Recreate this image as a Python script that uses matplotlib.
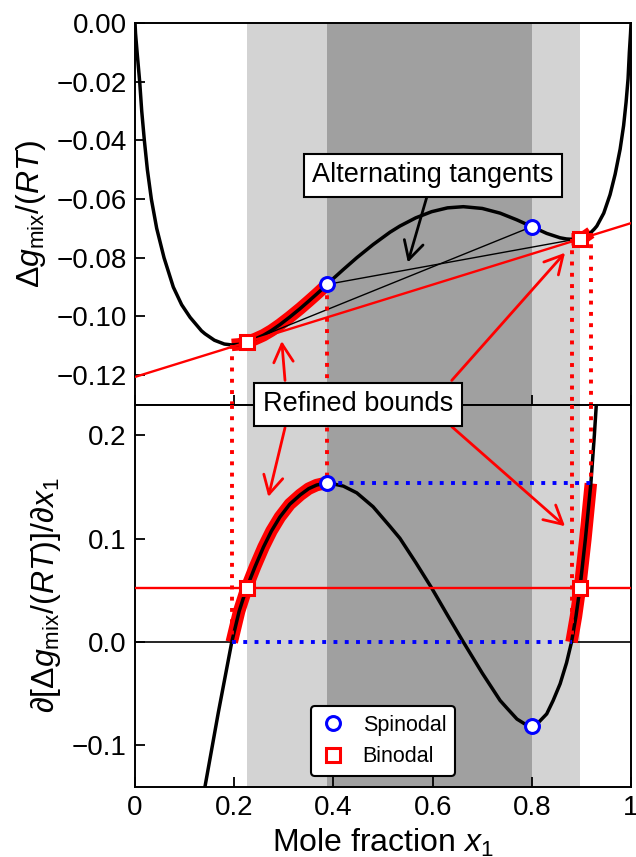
import numpy as np
import matplotlib
matplotlib.use("Agg")
import matplotlib.pyplot as plt
from matplotlib.ticker import FixedLocator, FixedFormatter

plt.rcParams.update({
    "font.family": ["Liberation Sans", "DejaVu Sans"],
    "mathtext.fontset": "custom",
    "mathtext.rm": "Liberation Sans",
    "mathtext.it": "Liberation Sans:italic",
    "mathtext.bf": "Liberation Sans:bold",
    "axes.linewidth": 1.4,
})

# Gibbs energy of mixing, dimensionless
X_G = np.array([0.0, 0.001, 0.0047, 0.0094, 0.0135, 0.0188, 0.0249, 0.0329, 0.0437,
                0.0585, 0.0772, 0.094, 0.111, 0.134, 0.141, 0.160, 0.180, 0.195,
                0.210, 0.225, 0.242, 0.259, 0.275, 0.292, 0.312, 0.333, 0.350, 0.366,
                0.377, 0.3865, 0.420, 0.447, 0.480, 0.514, 0.534, 0.566, 0.598, 0.630,
                0.662, 0.700, 0.736, 0.770, 0.800, 0.830, 0.857, 0.870, 0.880, 0.889,
                0.897, 0.908, 0.919, 0.926, 0.931, 0.945, 0.9577, 0.968, 0.978, 0.985,
                0.990, 0.994, 0.9966, 0.999, 1.0])
G = np.array([0.0, -0.0035, -0.0110, -0.0200, -0.0300, -0.0400, -0.0500, -0.0600, -0.0700,
              -0.0800, -0.0900, -0.0960, -0.1003, -0.1049, -0.1059, -0.1081, -0.1094, -0.1097,
              -0.1095, -0.1088, -0.1077, -0.1064, -0.1048, -0.1028, -0.1002, -0.0973, -0.0948,
              -0.0924, -0.0907, -0.0891, -0.0840, -0.0800, -0.0755, -0.0713, -0.0692, -0.0664,
              -0.0643, -0.0630, -0.0626, -0.0632, -0.0648, -0.0671, -0.0694, -0.0717, -0.0732,
              -0.0736, -0.0737, -0.0737, -0.0735, -0.0727, -0.0714, -0.0702, -0.0692, -0.0648,
              -0.0585, -0.0515, -0.0430, -0.0350, -0.0270, -0.0190, -0.0100, -0.0035, 0.0])

# first derivative w.r.t. x1
X_D = np.array([0.141, 0.168, 0.195, 0.210, 0.225, 0.242, 0.259, 0.275, 0.292, 0.312,
                0.333, 0.350, 0.366, 0.377, 0.3865, 0.403, 0.420, 0.447, 0.480, 0.514,
                0.534, 0.566, 0.598, 0.630, 0.662, 0.700, 0.736, 0.750, 0.770, 0.785,
                0.800, 0.815, 0.830, 0.843, 0.857, 0.870, 0.880, 0.889, 0.897, 0.908,
                0.919, 0.926, 0.930])
DG = np.array([-0.140, -0.068, 0.000, 0.030, 0.0524, 0.073, 0.092, 0.1075, 0.121, 0.1335,
               0.1425, 0.1485, 0.152, 0.1532, 0.1536, 0.1528, 0.151, 0.1445, 0.131, 0.112,
               0.1005, 0.077, 0.0524, 0.026, 0.000, -0.030, -0.0565, -0.064, -0.0745, -0.079,
               -0.0808, -0.0770, -0.0695, -0.0565, -0.0404, -0.020, 0.000, 0.025, 0.0524, 0.100,
               0.1536, 0.200, 0.230])

X_SPIN = np.array([0.3865, 0.800])
G_SPIN = np.array([-0.0891, -0.0694])
DG_SPIN = np.array([0.1536, -0.0808])

X_BIN = np.array([0.225, 0.897])
G_BIN = np.array([-0.1088, -0.0735])
DG_BIN = np.array([0.0524, 0.0524])

# common tangent through both binodal points
TAN_X = np.array([0.0, 1.0])
TAN_Y = np.array([-0.1206, -0.0682])

# bracketing intervals for the two binodal compositions
BOUND_L = (0.195, 0.3865)
BOUND_R = (0.880, 0.919)

# tangent chords from one spinodal to the opposite branch
ALT_X = [np.array([0.3865, 0.891]), np.array([0.800, 0.245])]
ALT_Y = [np.array([-0.0891, -0.0736]), np.array([-0.0694, -0.1074])]

LIGHT = "#d3d3d3"
DARK = "#a0a0a0"
DOT = (0, (1.0, 1.9))
DOT_LW = 2.8


def at(xs, ys, x):
    return ys[np.argmin(np.abs(xs - x))]


def span(xs, ys, lo, hi):
    m = (xs >= lo - 1e-9) & (xs <= hi + 1e-9)
    return xs[m], ys[m]


fig = plt.figure(figsize=(6.36, 8.57), dpi=100)
ax_t = fig.add_axes([0.2123, 0.528, 0.7799, 0.4452])
ax_b = fig.add_axes([0.2123, 0.082, 0.7799, 0.446], sharex=ax_t)

for ax in (ax_t, ax_b):
    ax.axvspan(X_BIN[0], X_BIN[1], color=LIGHT, lw=0, zorder=0)
    ax.axvspan(X_SPIN[0], X_SPIN[1], color=DARK, lw=0, zorder=0)
    ax.tick_params(direction="in", length=7, width=1.3, labelsize=20, pad=6)

# ---------- top: g(x) ----------
for lo, hi in (BOUND_L, BOUND_R):
    xs, ys = span(X_G, G, lo, hi)
    ax_t.plot(xs, ys, color="red", lw=9, solid_capstyle="butt", solid_joinstyle="round", zorder=2)
ax_t.plot(X_G, G, color="black", lw=2.5, solid_joinstyle="round", zorder=3)
for xs, ys in zip(ALT_X, ALT_Y):
    ax_t.plot(xs, ys, color="black", lw=1.0, zorder=3.5)
ax_t.plot(TAN_X, TAN_Y, color="red", lw=1.7, zorder=3.6)
for x in (*BOUND_L, *BOUND_R):
    ax_t.plot([x, x], [at(X_G, G, x), -0.13], color="red", lw=DOT_LW, ls=DOT, zorder=4)
ax_t.plot(X_SPIN, G_SPIN, "o", ms=10, mew=2.2, mfc="white", mec="blue", zorder=6)
ax_t.plot(X_BIN, G_BIN, "s", ms=9.5, mew=2.2, mfc="white", mec="red", zorder=6)

ax_t.set_xlim(0, 1)
ax_t.set_ylim(-0.13, 0.0)
ax_t.yaxis.set_major_locator(FixedLocator([-0.12, -0.10, -0.08, -0.06, -0.04, -0.02, 0.0]))
ax_t.yaxis.set_major_formatter(FixedFormatter(["\u22120.12", "\u22120.10", "\u22120.08",
                                               "\u22120.06", "\u22120.04", "\u22120.02", "0.00"]))
ax_t.tick_params(labelbottom=False)
ax_t.set_ylabel(r"$\Delta g_{\mathrm{mix}}/(RT)$", fontsize=23, labelpad=6)

ax_t.annotate("Alternating tangents", xy=(0.550, -0.0816), xytext=(0.601, -0.0519),
              ha="center", va="center", fontsize=19.5, zorder=10,
              bbox=dict(boxstyle="square,pad=0.32", fc="white", ec="black", lw=1.5),
              arrowprops=dict(arrowstyle="->,head_length=0.65,head_width=0.35",
                              mutation_scale=20, color="black", lw=2, shrinkA=0, shrinkB=0))

red_arrow = dict(arrowstyle="->,head_length=0.65,head_width=0.35", mutation_scale=20,
                 color="red", lw=2, shrinkA=0, shrinkB=0)
ax_t.annotate("", xy=(0.2958, -0.1084), xytext=(0.3024, -0.1218), arrowprops=red_arrow, zorder=9)
ax_t.annotate("", xy=(0.8669, -0.0783), xytext=(0.6385, -0.1218), arrowprops=red_arrow, zorder=9)

# ---------- bottom: dg/dx ----------
ax_b.plot([0, BOUND_L[0]], [0, 0], color="black", lw=1.2, zorder=1.5)
ax_b.plot([BOUND_R[0], 1], [0, 0], color="black", lw=1.2, zorder=1.5)
ax_b.axhline(DG_BIN[0], color="red", lw=1.7, zorder=3.6)
for lo, hi in (BOUND_L, BOUND_R):
    xs, ys = span(X_D, DG, lo, hi)
    ax_b.plot(xs, ys, color="red", lw=9, solid_capstyle="butt", solid_joinstyle="round", zorder=2)
ax_b.plot(X_D, DG, color="black", lw=2.5, solid_joinstyle="round", zorder=3)
ax_b.plot([X_SPIN[0], BOUND_R[1]], [DG_SPIN[0], DG_SPIN[0]], color="blue", lw=DOT_LW, ls=DOT, zorder=4)
ax_b.plot([BOUND_L[0], BOUND_R[0]], [0, 0], color="blue", lw=DOT_LW, ls=DOT, zorder=4)
for x in (*BOUND_L, *BOUND_R):
    ax_b.plot([x, x], [0.23, at(X_D, DG, x)], color="red", lw=DOT_LW, ls=DOT, zorder=4)
h_sp, = ax_b.plot(X_SPIN, DG_SPIN, "o", ms=10, mew=2.2, mfc="white", mec="blue",
                  zorder=6, label="Spinodal")
h_bi, = ax_b.plot(X_BIN, DG_BIN, "s", ms=9.5, mew=2.2, mfc="white", mec="red",
                  zorder=6, label="Binodal")

ax_b.set_ylim(-0.14, 0.23)
ax_b.yaxis.set_major_locator(FixedLocator([-0.1, 0.0, 0.1, 0.2]))
ax_b.yaxis.set_major_formatter(FixedFormatter(["\u22120.1", "0.0", "0.1", "0.2"]))
ax_b.xaxis.set_major_locator(FixedLocator([0, 0.2, 0.4, 0.6, 0.8, 1.0]))
ax_b.xaxis.set_major_formatter(FixedFormatter(["0", "0.2", "0.4", "0.6", "0.8", "1"]))
ax_b.set_ylabel(r"$\partial[\Delta g_{\mathrm{mix}}/(RT)]/\partial x_1$", fontsize=23, labelpad=6)
ax_b.set_xlabel(r"Mole fraction $x_1$", fontsize=23)

ax_b.annotate("", xy=(0.2688, 0.1406), xytext=(0.3024, 0.2076), arrowprops=red_arrow, zorder=9)
ax_b.annotate("", xy=(0.8669, 0.1122), xytext=(0.6385, 0.2086), arrowprops=red_arrow, zorder=9)
ax_b.text(0.4496, 0.2301, "Refined bounds", ha="center", va="center", fontsize=19.5,
          zorder=10, clip_on=False,
          bbox=dict(boxstyle="square,pad=0.32", fc="white", ec="black", lw=1.5))

leg = ax_b.legend(handles=[h_sp, h_bi], loc="lower center", fontsize=15.5, handlelength=1.2,
                  framealpha=1, edgecolor="black", fancybox=True)
leg.get_frame().set_linewidth(1.5)
leg.set_zorder(12)

fig.savefig("out.png", dpi=100)
